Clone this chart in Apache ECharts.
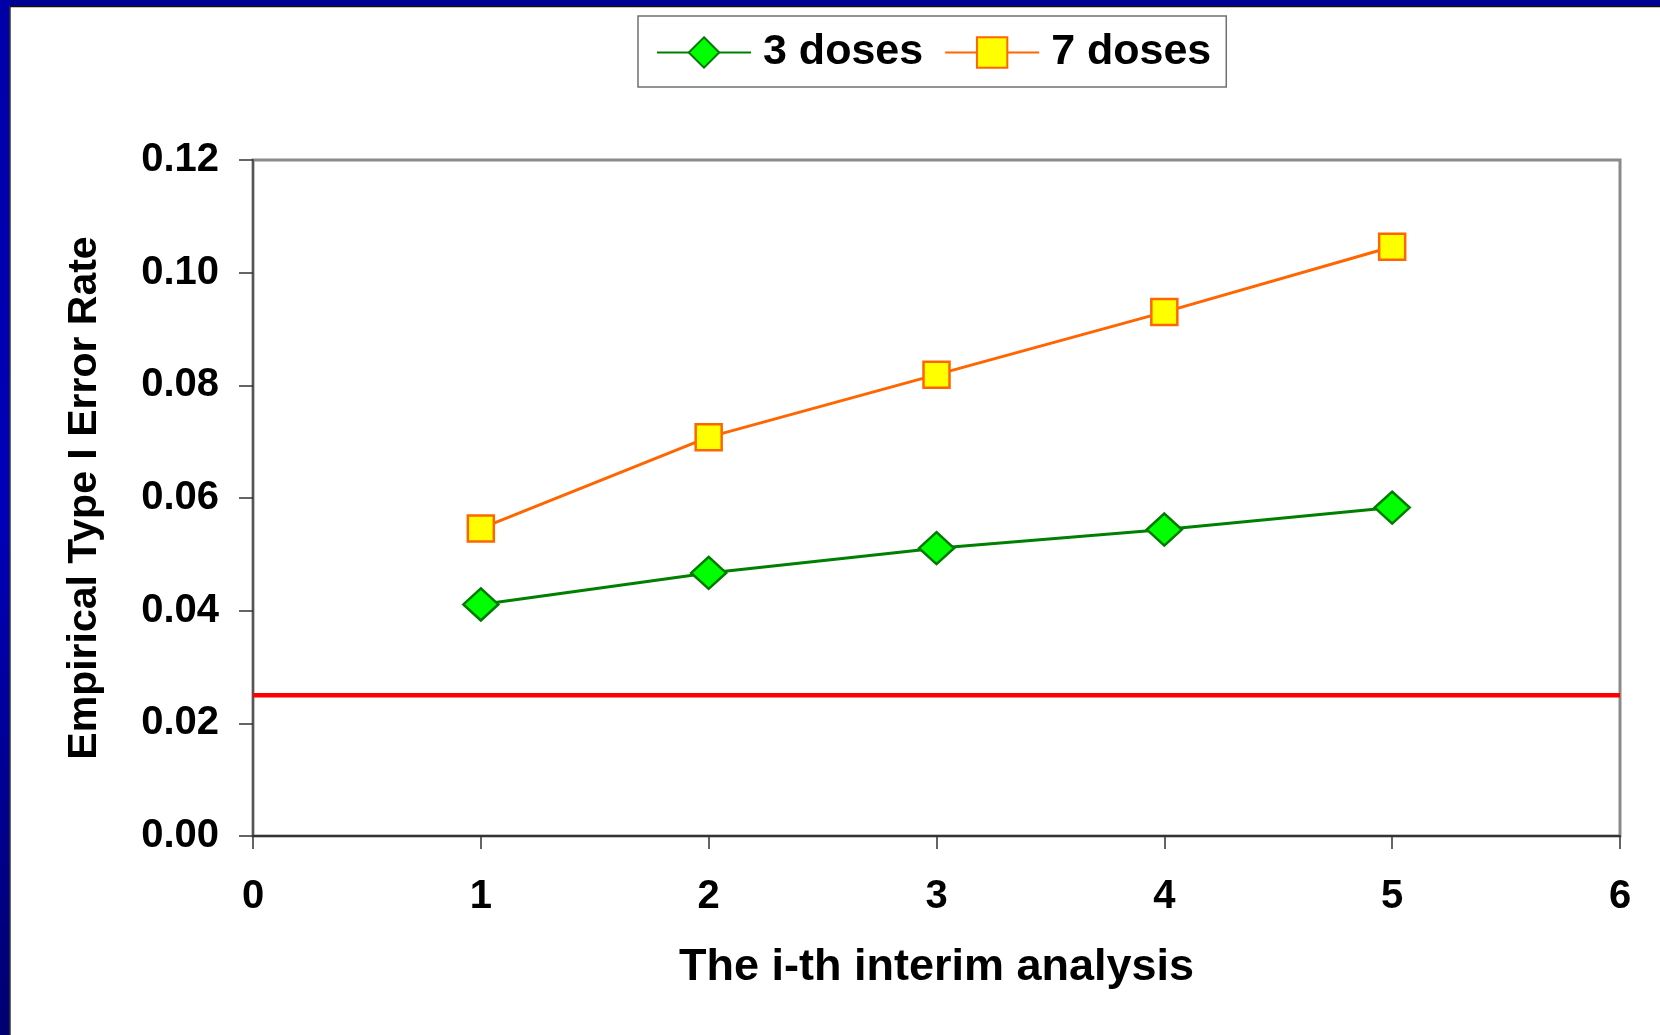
<!DOCTYPE html>
<html>
<head>
<meta charset="utf-8">
<script src="https://cdn.jsdelivr.net/npm/echarts@6/dist/echarts.min.js"></script>
<style>
html,body{margin:0;padding:0;background:#fff;}
#c{width:1660px;height:1035px;}
</style>
</head>
<body>
<div id="c"></div>
<script>
const analyses = [1, 2, 3, 4, 5];
const doses3 = [0.0411, 0.0467, 0.0511, 0.0544, 0.0583];
const doses7 = [0.0546, 0.0708, 0.0819, 0.0930, 0.1046];
const refLevel = 0.025;
const xRange = [0, 6];
const seriesNames = ['3 doses', '7 doses'];
const axisTitles = { x: 'The i-th interim analysis', y: 'Empirical Type I Error Rate' };

const FONT = '"Liberation Sans", Arial, sans-serif';
const chart = echarts.init(document.getElementById('c'));
chart.setOption({
  backgroundColor: '#ffffff',
  animation: false,
  graphic: [
    { type: 'rect', left: 0, top: 0, z: 100, shape: { width: 1660, height: 6 },
      style: { fill: '#000094' } },
    { type: 'rect', left: 0, top: 0, z: 100, shape: { width: 10, height: 1035 },
      style: { fill: { type: 'linear', x: 0, y: 0, x2: 0, y2: 1,
        colorStops: [{ offset: 0, color: '#0000a8' }, { offset: 0.5, color: '#0000b8' }, { offset: 1, color: '#000070' }] } } },
    { type: 'line', z: 101, shape: { x1: 10, y1: 6, x2: 10, y2: 1035 }, style: { stroke: '#333', lineWidth: 1.5 } },
    { type: 'line', z: 101, shape: { x1: 10, y1: 6.5, x2: 1660, y2: 6.5 }, style: { stroke: '#111', lineWidth: 1.5 } }
  ],
  legend: {
    data: seriesNames,
    left: 638, top: 16,
    padding: [15, 15, 13, 18],
    itemWidth: 94, itemHeight: 38, itemGap: 21,
    borderColor: '#707070', borderWidth: 1.5, backgroundColor: '#fff',
    textStyle: { fontFamily: FONT, fontSize: 43, fontWeight: 'bold', color: '#000', padding: [0, 0, 0, 7] }
  },
  grid: {
    left: 253, top: 160, right: 40, bottom: 199,
    show: true, borderColor: '#8a8a8a', borderWidth: 3, backgroundColor: '#fff'
  },
  xAxis: {
    type: 'value', min: xRange[0], max: xRange[1], interval: 1,
    name: axisTitles.x, nameLocation: 'middle', nameGap: 109,
    nameTextStyle: { fontFamily: FONT, fontSize: 45, fontWeight: 'bold', color: '#000' },
    axisLine: { show: true, lineStyle: { color: '#333', width: 2 } },
    axisTick: { show: true, length: 13, lineStyle: { color: '#333', width: 1.5 } },
    axisLabel: { margin: 41, fontFamily: FONT, fontSize: 40, fontWeight: 'bold', color: '#000' },
    splitLine: { show: false }
  },
  yAxis: {
    type: 'value', min: 0, max: 0.12, interval: 0.02,
    name: axisTitles.y, nameLocation: 'middle', nameGap: 148,
    nameTextStyle: { fontFamily: FONT, fontSize: 41, fontWeight: 'bold', color: '#000' },
    axisLine: { show: true, lineStyle: { color: '#555', width: 2 } },
    axisTick: { show: true, length: 14, lineStyle: { color: '#333', width: 1.5 } },
    axisLabel: { margin: 34, fontFamily: FONT, fontSize: 40, fontWeight: 'bold', color: '#000',
      formatter: v => v.toFixed(2) },
    splitLine: { show: false }
  },
  series: [
    {
      name: 'ref', type: 'line', silent: true, symbol: 'none', z: 1,
      data: [[xRange[0], refLevel], [xRange[1], refLevel]],
      lineStyle: { color: '#ff0000', width: 4.5 }
    },
    {
      name: seriesNames[0], type: 'line', z: 3,
      data: analyses.map((x, i) => [x, doses3[i]]),
      symbol: 'diamond', symbolSize: [35, 32],
      lineStyle: { color: '#008000', width: 3 },
      itemStyle: { color: '#00ff00', borderColor: '#007a00', borderWidth: 2.5 }
    },
    {
      name: seriesNames[1], type: 'line', z: 3,
      data: analyses.map((x, i) => [x, doses7[i]]),
      symbol: 'rect', symbolSize: 26,
      lineStyle: { color: '#ff6600', width: 3 },
      itemStyle: { color: '#ffff00', borderColor: '#ff6600', borderWidth: 2.5 }
    }
  ]
});
</script>
</body>
</html>
